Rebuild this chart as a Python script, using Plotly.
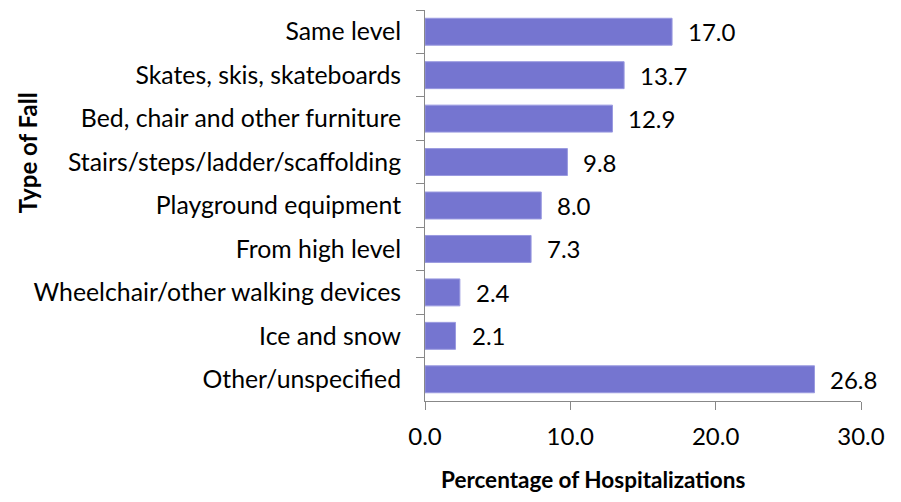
"""Hospitalizations by type of fall, horizontal bar chart."""

import plotly.graph_objects as go

categories = [
    "Same level",
    "Skates, skis, skateboards",
    "Bed, chair and other furniture",
    "Stairs/steps/ladder/scaffolding",
    "Playground equipment",
    "From high level",
    "Wheelchair/other walking devices",
    "Ice and snow",
    "Other/unspecified",
]
percentages = [17.0, 13.7, 12.9, 9.8, 8.0, 7.3, 2.4, 2.1, 26.8]
x_ticks = [0, 10, 20, 30]

FONT = "Lato"
SIZE = 24
BAR = "#7575D0"
AXIS = "#888888"

fig = go.Figure()
fig.add_trace(go.Bar(
    x=percentages,
    y=categories,
    orientation="h",
    marker=dict(color=BAR, line=dict(color="#9a9ae0", width=1)),
    hoverinfo="x+y",
))

for cat, val in zip(categories, percentages):
    fig.add_annotation(
        x=val, y=cat, text=f"{val:.1f}", showarrow=False,
        xanchor="left", xshift=14, font=dict(family=FONT, size=SIZE, color="black"),
    )

fig.add_annotation(
    xref="paper", yref="paper", x=0.385, y=-0.202, text="<b>Percentage of Hospitalizations</b>",
    showarrow=False, xanchor="center", yanchor="middle",
    font=dict(family=FONT, size=22.5, color="black"),
)
fig.add_annotation(
    xref="paper", yref="paper", x=-0.913, y=0.636, text="<b>Type of Fall</b>",
    showarrow=False, textangle=-90, xanchor="center", yanchor="middle",
    font=dict(family=FONT, size=SIZE, color="black"),
)

# page body has an 8px margin, so the figure is made 16px smaller to fit the window
fig.update_layout(
    width=885,
    height=486,
    margin=dict(l=417, r=32, t=2, b=93),
    paper_bgcolor="white",
    plot_bgcolor="white",
    bargap=0.38,
    showlegend=False,
    font=dict(family=FONT, size=SIZE, color="black"),
    xaxis=dict(
        range=[0, 30], tickvals=x_ticks, ticktext=[f"{v:.1f}" for v in x_ticks],
        showgrid=False, zeroline=False, showline=True, linecolor=AXIS, linewidth=1,
        ticks="outside", ticklen=8, tickcolor=AXIS, ticklabelstandoff=6,
    ),
    yaxis=dict(
        autorange="reversed", showgrid=False, showline=True, linecolor=AXIS, linewidth=1,
        ticks="outside", ticklen=8, tickcolor=AXIS, tickson="boundaries",
        ticklabelstandoff=18, tickfont=dict(size=24.8),
    ),
)

fig.write_html("out.html")
